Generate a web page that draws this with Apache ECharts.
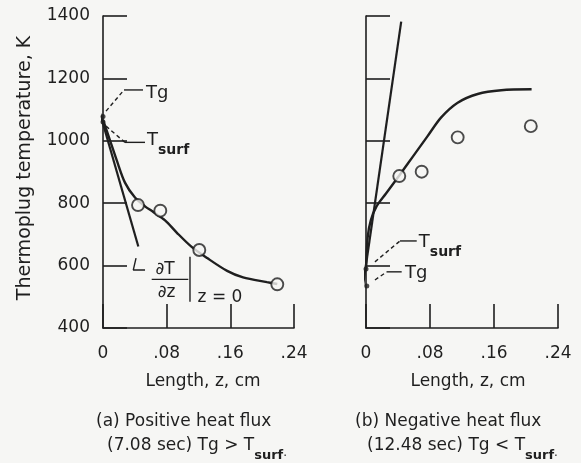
<!DOCTYPE html>
<html><head><meta charset="utf-8">
<script src="https://cdn.jsdelivr.net/npm/echarts@6/dist/echarts.min.js"></script>
<style>html,body{margin:0;padding:0;background:#f6f6f4}#c{width:581px;height:463px}</style>
</head><body><div id="c"></div><script>
// ---- data ----
const xTickLabels = ['0', '.08', '.16', '.24'];
const yTickValues = [400, 600, 800, 1000, 1200, 1400];

// (a) positive heat flux
const aMeasuredZ = [0.044, 0.072, 0.121, 0.219];
const aMeasuredT = [794, 776, 650, 540];
const aCurveZ = [0, 0.009, 0.0172, 0.0276, 0.0402, 0.0528, 0.0632, 0.078, 0.0926, 0.1114, 0.131, 0.156, 0.176, 0.206, 0.219];
const aCurveT = [1067, 1000, 938, 866, 818, 790, 772, 745, 706, 660, 624, 583, 562, 547, 541];
const aSlopeZ = [-0.0122, 0.0444];
const aSlopeT = [1163, 661];
const aTg = [0, 1078];
const aTsurf = [0, 1060];

// (b) negative heat flux
const bMeasuredZ = [0.0416, 0.0696, 0.1146, 0.206];
const bMeasuredT = [887, 901, 1011, 1047];
const bCurveZ = [0, 0.002, 0.006, 0.013, 0.025, 0.0416, 0.059, 0.077, 0.094, 0.1146, 0.1396, 0.169, 0.207];
const bCurveT = [589, 690, 745, 789, 831, 889, 951, 1015, 1075, 1122, 1150, 1162, 1165];
const bSlopeZ = [-0.007, 0.044];
const bSlopeT = [478, 1382];
const bTg = [0.001, 535];
const bTsurf = [0, 589];

// annotation anchors (data space)
const aTgDiag = [[0.0038, 1095], [0.0264, 1163]];
const aTgHoriz = [[0.0264, 1163], [0.0503, 1163]];
const aTgLabel = [0.054, 1151];
const aTsDiag = [[0.0038, 1047], [0.0276, 995]];
const aTsHoriz = [[0.0276, 995], [0.0528, 995]];
const aTsLabel = [0.0553, 1003];
const aLShape = [[0.0415, 624], [0.0381, 586], [0.0528, 586]];
const aFracBar = [[0.0612, 556], [0.1072, 556]];
const aEvalBar = [[0.1093, 628], [0.1093, 484]];
const aDTLabel = [0.0779, 587];
const aDZLabel = [0.080, 512];
const aZ0Label = [0.147, 498];

const bTsDiag = [[0.0112, 612], [0.0425, 679]];
const bTsHoriz = [[0.0425, 679], [0.0634, 679]];
const bTsLabel = [0.066, 676];
const bTgDiag = [[0.0112, 554], [0.0259, 580]];
const bTgHoriz = [[0.0259, 580], [0.0446, 580]];
const bTgLabel = [0.0488, 576];

// ---- styles ----
const INK = '#1f1f1f';
const BG = '#f6f6f4';
const FONT = '"DejaVu Sans", "Liberation Sans", sans-serif';

const zip = (xs, ys) => xs.map((x, i) => [x, ys[i]]);

function xAxisCfg(gi) {
  return {
    type: 'value', gridIndex: gi, min: 0, max: 0.24, interval: 0.08,
    axisLine: { show: true, onZero: false, lineStyle: { color: INK, width: 1.6 } },
    axisTick: { show: true, inside: true, length: 24, lineStyle: { color: INK, width: 1.6 } },
    axisLabel: { margin: 17, color: INK, fontSize: 17, fontFamily: FONT,
      formatter: v => xTickLabels[Math.round(v / 0.08)] },
    splitLine: { show: false }
  };
}
function yAxisCfg(gi, showLabels) {
  return {
    type: 'value', gridIndex: gi, min: yTickValues[0], max: yTickValues[yTickValues.length - 1], interval: 200,
    axisLine: { show: true, onZero: false, lineStyle: { color: INK, width: 1.6 } },
    axisTick: { show: true, inside: true, length: 24, lineStyle: { color: INK, width: 1.6 } },
    axisLabel: { show: showLabels, margin: 13, color: INK, fontSize: 17, fontFamily: FONT, padding: [6, 0, 0, 0],
      formatter: v => String(v) },
    splitLine: { show: false }
  };
}
function curve(gi, data) {
  return { type: 'line', xAxisIndex: gi, yAxisIndex: gi, data, smooth: 0.3, symbol: 'none',
    lineStyle: { color: INK, width: 2.4 }, silent: true, z: 3 };
}
function straight(gi, data, width, dashed) {
  return { type: 'line', xAxisIndex: gi, yAxisIndex: gi, data, symbol: 'none', clip: false,
    lineStyle: { color: INK, width: width, type: dashed ? [4, 3] : 'solid' }, silent: true, z: 3 };
}
function circles(gi, data) {
  return { type: 'scatter', xAxisIndex: gi, yAxisIndex: gi, data, symbol: 'circle', symbolSize: 12,
    itemStyle: { color: BG, borderColor: INK, borderWidth: 1.9 }, silent: true, z: 5 };
}
function dots(gi, data) {
  return { type: 'scatter', xAxisIndex: gi, yAxisIndex: gi, data, symbol: 'circle', symbolSize: 5,
    itemStyle: { color: INK }, silent: true, z: 6, clip: false };
}

const chart = echarts.init(document.getElementById('c'), null, { renderer: 'canvas' });
const option = {
  backgroundColor: BG,
  animation: false,
  grid: [
    { left: 103, top: 16, width: 191, height: 312 },
    { left: 366, top: 16, width: 192, height: 312 }
  ],
  xAxis: [xAxisCfg(0), xAxisCfg(1)],
  yAxis: [yAxisCfg(0, true), yAxisCfg(1, false)],
  series: [
    curve(0, zip(aCurveZ, aCurveT)),
    straight(0, zip(aSlopeZ, aSlopeT), 2.2, false),
    circles(0, zip(aMeasuredZ, aMeasuredT)),
    dots(0, [aTg, aTsurf]),
    straight(0, aTgDiag, 1.4, true), straight(0, aTgHoriz, 1.4, false),
    straight(0, aTsDiag, 1.4, true), straight(0, aTsHoriz, 1.4, false),
    straight(0, aLShape, 1.4, false),
    straight(0, aFracBar, 1.4, false),
    straight(0, aEvalBar, 1.4, false),

    curve(1, zip(bCurveZ, bCurveT)),
    straight(1, zip(bSlopeZ, bSlopeT), 2.2, false),
    circles(1, zip(bMeasuredZ, bMeasuredT)),
    dots(1, [bTg, bTsurf]),
    straight(1, bTsDiag, 1.4, true), straight(1, bTsHoriz, 1.4, false),
    straight(1, bTgDiag, 1.4, true), straight(1, bTgHoriz, 1.4, false)
  ]
};
chart.setOption(option);

const SUB = { fontSize: 14, fontWeight: 'bold', fontFamily: FONT, fill: INK, padding: [20, 0, 0, 0], verticalAlign: 'bottom' };
const MAIN = { fontSize: 18, fontFamily: FONT, fill: INK, lineHeight: 20 };
function txt(x, y, text, size, align, extra) {
  return Object.assign({ type: 'text', x, y, silent: true, z: 10,
    style: Object.assign({ text, fontSize: size, fontFamily: FONT, fill: INK, align: align || 'left', verticalAlign: 'middle' }, extra || {}) });
}
function dtxt(gi, p, text, size, align, extra) {
  const q = chart.convertToPixel({ gridIndex: gi }, p);
  return txt(q[0], q[1], text, size, align, extra);
}
const subRich = { rich: { m: MAIN, s: SUB } };
const capRich = { rich: { m: { fontSize: 17, fontFamily: FONT, fill: INK, lineHeight: 20 }, s: Object.assign({}, SUB, { fontSize: 13 }), d: { fontSize: 12, fontFamily: FONT, fill: INK, padding: [20, 0, 0, 0], verticalAlign: 'bottom' } } };

const yName = txt(25, 168, 'Thermoplug temperature, K', 19, 'center');
yName.rotation = Math.PI / 2;

chart.setOption({
  graphic: [
    yName,
    txt(203, 382, 'Length, z, cm', 17, 'center'),
    txt(468, 382, 'Length, z, cm', 17, 'center'),
    txt(96, 422, '(a) Positive heat flux', 17, 'left'),
    txt(107, 446, '{m|(7.08 sec) Tg > T}{s|surf}{d|·}', 17, 'left', capRich),
    txt(355, 422, '(b) Negative heat flux', 17, 'left'),
    txt(367, 446, '{m|(12.48 sec) Tg < T}{s|surf}{d|·}', 17, 'left', capRich),
    dtxt(0, aTgLabel, 'Tg', 18, 'left'),
    dtxt(0, aTsLabel, '{m|T}{s|surf}', 18, 'left', subRich),
    dtxt(0, aDTLabel, '∂T', 17, 'center'),
    dtxt(0, aDZLabel, '∂z', 17, 'center'),
    dtxt(0, aZ0Label, 'z = 0', 17, 'center'),
    dtxt(1, bTsLabel, '{m|T}{s|surf}', 18, 'left', subRich),
    dtxt(1, bTgLabel, 'Tg', 18, 'left')
  ]
});
</script></body></html>
